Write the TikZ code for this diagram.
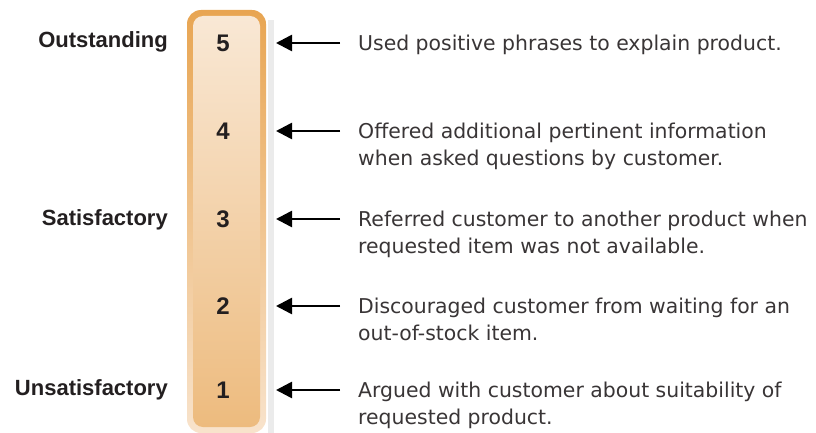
\documentclass[tikz,border=0pt]{standalone}
\usepackage{fontspec}
\setmainfont{Liberation Sans}
\newfontfamily\bodyfont{DejaVu Sans}
\usetikzlibrary{arrows.meta,positioning}
\definecolor{barrim}{HTML}{E8A552}
\definecolor{barrimlight}{HTML}{F8E3CC}
\definecolor{barfilltop}{HTML}{F9E8D5}
\definecolor{barfillbot}{HTML}{EDBB7E}
\definecolor{inktext}{HTML}{231F20}
\tikzstyle{level} = [font=\fontsize{24}{24}\selectfont\bfseries, text=inktext, inner sep=0pt]
\tikzstyle{rating} = [font=\fontsize{22}{24}\selectfont\bfseries, text=inktext, inner sep=0pt, anchor=base east]
\tikzstyle{behaviour} = [font=\bodyfont\fontsize{20.4}{27}\selectfont, text=inktext!90, inner sep=0pt, align=left, anchor=base west]
\tikzstyle{arrow} = [-{Triangle[length=16pt,width=16pt]}, line width=2.6pt, black]
\begin{document}
\begin{tikzpicture}[x=1pt,y=-1pt]
\useasboundingbox (0,0) rectangle (816,433);
% scale bar
\fill[black!8] (268,20) rectangle (274,433);
\shade[top color=barrim, bottom color=barrimlight, rounded corners=14pt]
  (187,10) rectangle (266,433);
\shade[top color=barfilltop, bottom color=barfillbot, rounded corners=10pt]
  (193,16) rectangle (260,427);
% numbers on the bar
\node[level] (n5) at (223,43) {5};
\node[level] (n4) at (223,131) {4};
\node[level] (n3) at (223,219) {3};
\node[level] (n2) at (223,306) {2};
\node[level] (n1) at (223,390) {1};
\coordinate (e5) at (276,43);
\coordinate (e4) at (276,131);
\coordinate (e3) at (276,219);
\coordinate (e2) at (276,306);
\coordinate (e1) at (276,390);
% ratings
\node[rating] (r5) at (168,48) {Outstanding};
\node[rating] (r3) at (168,225) {Satisfactory};
\node[rating] (r1) at (168,395) {Unsatisfactory};
% behaviours (two-line texts sit on their last baseline)
\node[behaviour] (b5) at (358,50.5) {Used positive phrases to explain product.};
\node[behaviour] (b4) at (358,165.5) {Offered additional pertinent information\\when asked questions by customer.};
\node[behaviour] (b3) at (358,253.5) {Referred customer to another product when\\requested item was not available.};
\node[behaviour] (b2) at (358,340.5) {Discouraged customer from waiting for an\\out-of-stock item.};
\node[behaviour] (b1) at (358,424.5) {Argued with customer about suitability of\\requested product.};
\coordinate (s5) at (340,43);
\coordinate (s4) at (340,131);
\coordinate (s3) at (340,219);
\coordinate (s2) at (340,306);
\coordinate (s1) at (340,390);
\foreach \i in {1,...,5}
  \draw[arrow] (s\i) -- (e\i);
\end{tikzpicture}
\end{document}
